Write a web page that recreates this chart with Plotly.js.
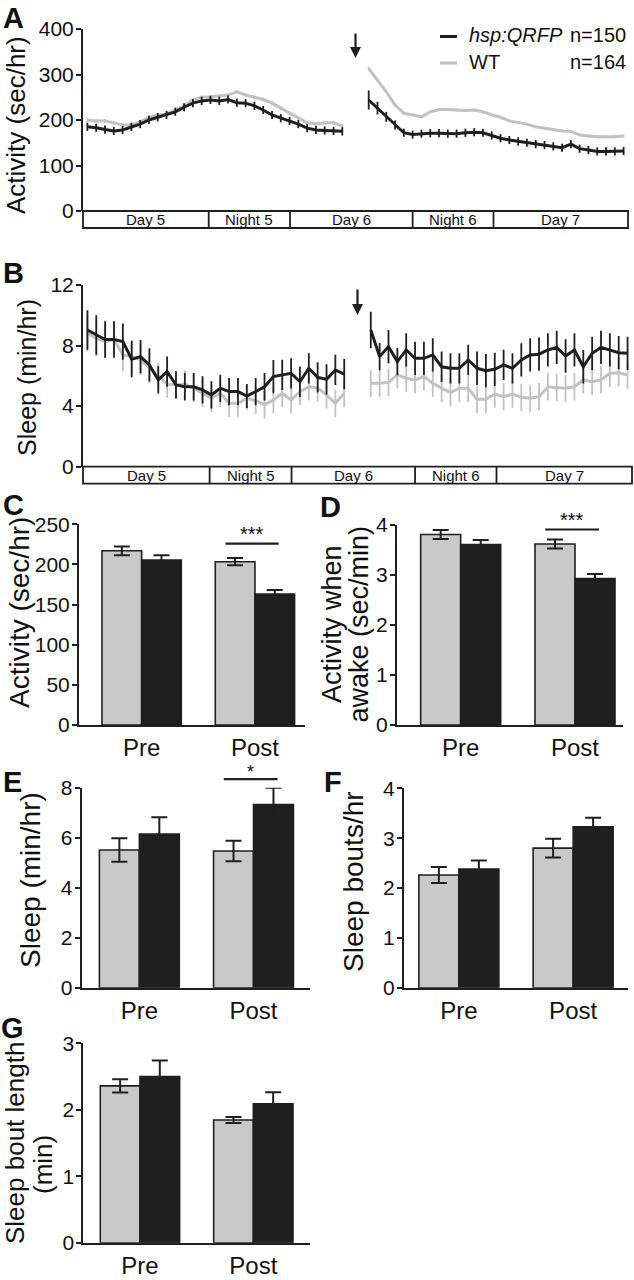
<!DOCTYPE html>
<html>
<head>
<meta charset="utf-8">
<script src="https://cdn.plot.ly/plotly-3.0.1.min.js"></script>
<style>html,body{margin:0;padding:0;background:#fff}#chart{width:634px;height:1280px}</style>
</head>
<body>
<div id="chart"></div>
<script>
// ---------------- DATA ----------------
const seriesNames = ['hsp:QRFP', 'WT'];
const seriesN = [150, 164];

const periodLabels = ['Day 5', 'Night 5', 'Day 6', 'Night 6', 'Day 7'];
const periodBounds = [0, 14.3, 23.55, 37.5, 46.7, 62];   // hours
const heatShockHour = 31;

const preHours  = [0.5,1.5,2.5,3.5,4.5,5.5,6.5,7.5,8.5,9.5,10.5,11.5,12.5,13.5,14.5,15.5,16.5,17.5,18.5,19.5,20.5,21.5,22.5,23.5,24.5,25.5,26.5,27.5,28.5,29.5];
const postHours = [32.5,33.5,34.5,35.5,36.5,37.5,38.5,39.5,40.5,41.5,42.5,43.5,44.5,45.5,46.5,47.5,48.5,49.5,50.5,51.5,52.5,53.5,54.5,55.5,56.5,57.5,58.5,59.5,60.5,61.5];

// Panel A: activity (sec/hr)
const actQrfpPre  = [185,183,179,176,178,185,191,200,206,211,218,228,237,242,244,242,245,238,237,231,222,211,204,198,191,182,178,177,176,175];
const actQrfpPreErr = [9,9,9,9,9,9,9,9,9,9,9,9,9,9,9,9,9,9,9,9,9,9,9,9,9,9,9,9,9,9];
const actWtPre    = [200,198,198,194,189,189,196,206,211,213,222,231,244,250,251,253,255,262,255,250,245,237,226,215,204,194,191,194,194,187];
const actWtPreErr = [4,4,4,4,4,4,4,4,4,4,4,4,4,4,4,4,4,4,4,4,4,4,4,4,4,4,4,4,4,4];
const actQrfpPost = [244,226,207,189,172,168,170,171,171,170,170,172,173,172,166,160,156,153,150,147,145,142,139,147,137,134,131,131,131,132];
const actQrfpPostErr = [21,14,11,10,9,9,9,9,9,9,9,9,9,9,9,9,9,9,9,9,9,9,9,9,9,9,9,9,9,9];
const actWtPost   = [313,288,262,233,215,211,207,218,223,223,222,221,222,218,211,206,198,194,191,185,182,178,176,175,167,165,163,163,163,165];
const actWtPostErr = [4,4,3,3,3,3,3,3,3,3,3,3,3,3,3,3,3,3,3,3,3,3,3,3,3,3,3,3,3,3];

// Panel B: sleep (min/hr)
const slpQrfpPre  = [9.03,8.7,8.4,8.4,8.26,7.1,7.27,6.72,5.73,6.28,5.4,5.28,5.28,5.07,4.74,5.18,4.96,4.96,4.67,4.96,5.28,5.95,6.06,6.17,5.61,6.5,5.9,5.77,6.39,6.12];
const slpQrfpPreErr = [1.3,1.3,1.2,1.2,1.2,1.2,1.1,1.1,0.9,1.0,0.9,0.9,0.9,0.9,0.9,0.9,0.9,0.9,0.8,0.9,0.9,1.1,1.0,1.0,1.0,1.0,1.0,1.0,1.0,1.0];
const slpWtPre    = [8.81,8.48,8.26,8.4,7.38,7.27,7.05,6.5,5.95,5.46,5.4,5.46,5.18,4.85,4.52,4.85,4.19,4.19,4.52,4.36,4.08,4.41,4.85,4.41,4.96,5.28,5.2,4.74,4.19,4.85];
const slpWtPreErr = [1.2,1.2,1.1,1.1,1.1,1.1,1.0,1.0,0.9,0.9,0.9,0.9,0.9,0.9,0.9,0.9,0.9,0.9,0.8,0.9,0.9,0.9,0.9,0.9,0.9,0.9,0.9,0.9,0.9,0.9];
const slpQrfpPost = [9.03,7.27,7.93,6.94,7.71,7.16,7.16,7.38,6.6,6.5,6.5,7.05,6.5,6.34,6.43,6.72,6.5,7.05,7.38,7.43,7.71,7.88,7.31,7.71,6.6,7.49,7.88,7.71,7.53,7.49];
const slpQrfpPostErr = [1.2,0.9,1.1,0.9,1.1,1.1,1.1,1.1,1.0,1.0,1.0,1.0,1.1,1.1,1.1,1.0,1.0,1.1,1.1,1.1,1.1,1.1,1.1,1.1,1.1,1.1,1.1,1.1,1.1,1.1];
const slpWtPost   = [5.51,5.51,5.57,6.06,5.84,5.73,5.95,5.51,5.18,4.89,5.18,5.18,4.45,4.45,4.8,4.62,4.8,4.58,4.52,4.62,5.28,5.24,5.18,5.28,5.73,5.62,5.73,6.17,6.21,6.06];
const slpWtPostErr = [0.9,0.9,0.9,0.9,0.9,0.9,0.9,0.9,0.9,0.9,0.9,0.9,0.9,0.9,0.9,0.9,0.9,0.9,0.9,0.9,0.9,0.9,0.9,0.9,0.9,0.9,0.9,0.9,0.9,0.9];

// Bar panels (WT, hsp:QRFP) for Pre / Post
const barCategories = ['Pre', 'Post'];
const activityWt = [217, 203.4],  activityWtErr = [5.5, 4.5];
const activityQrfp = [205.5, 163.2], activityQrfpErr = [5.9, 5.0];
const awakeWt = [3.81, 3.62], awakeWtErr = [0.09, 0.09];
const awakeQrfp = [3.61, 2.93], awakeQrfpErr = [0.09, 0.09];
const sleepWt = [5.51, 5.47], sleepWtErr = [0.47, 0.41];
const sleepQrfp = [6.15, 7.33], sleepQrfpErr = [0.67, 0.67];
const boutsWt = [2.26, 2.8], boutsWtErr = [0.16, 0.19];
const boutsQrfp = [2.38, 3.23], boutsQrfpErr = [0.17, 0.18];
const lengthWt = [2.36, 1.845], lengthWtErr = [0.1, 0.045];
const lengthQrfp = [2.5, 2.09], lengthQrfpErr = [0.24, 0.175];

// significance marks: [category, label, height in data units]
const sigC = ['Post', '***', 226];
const sigD = ['Post', '***', 3.91];
const sigE = ['Post', '*', 8.34];

// ---------------- STYLE / LAYOUT ----------------
const FONT = 'Liberation Sans, Arial, Helvetica, sans-serif';
const BLACK = '#1f1f1f', LGRAY = '#c2c2c2', BGRAY = '#c8c9cb';
const W = 634, H = 1280;
const px = p => p / W;
const py = p => 1 - p / H;

const box = {
  A: {x0: 83,   x1: 628, y0: 29,     y1: 211},
  B: {x0: 83,   x1: 632, y0: 285,    y1: 466.7},
  C: {x0: 79,   x1: 305, y0: 524.3,  y1: 725},
  D: {x0: 397,  x1: 623, y0: 525,    y1: 725},
  E: {x0: 81.7, x1: 310, y0: 787.7,  y1: 987.7},
  F: {x0: 404,  x1: 628, y0: 788.3,  y1: 987.7},
  G: {x0: 83.3, x1: 310, y0: 1043.3, y1: 1242.7}
};

function yAx(b, range, dtick, anchor) {
  return {domain: [py(b.y1), py(b.y0)], range: range, dtick: dtick, tick0: 0, anchor: anchor,
    showline: true, linewidth: 2, linecolor: BLACK, ticks: 'outside', ticklen: 5, tickwidth: 2,
    tickcolor: BLACK, showgrid: false, zeroline: false, fixedrange: true, ticklabelstandoff: -2,
    tickfont: {family: FONT, size: 21, color: '#111'}};
}
function xTime(b, anchor) {
  return {domain: [px(b.x0), px(b.x1)], range: [0, 62], anchor: anchor, showline: false,
    showticklabels: false, ticks: '', showgrid: false, zeroline: false, fixedrange: true};
}
function xBar(b, range, anchor) {
  return {domain: [px(b.x0), px(b.x1)], range: range, type: 'category', anchor: anchor,
    showline: true, linewidth: 2, linecolor: BLACK, ticks: '', showgrid: false, zeroline: false,
    fixedrange: true, tickfont: {family: FONT, size: 24, color: '#111'}};
}

const traces = [];
function ts(xa, ya, x, y, err, color) {
  traces.push({type: 'scatter', mode: 'lines', x: x, y: y, xaxis: xa, yaxis: ya,
    line: {color: color, width: 3}, showlegend: false, hoverinfo: 'skip',
    error_y: {type: 'data', array: err, color: color, thickness: 1.8, width: 0}});
}
// Panel A
ts('x', 'y', preHours, actWtPre, actWtPreErr, LGRAY);
ts('x', 'y', postHours, actWtPost, actWtPostErr, LGRAY);
ts('x', 'y', preHours, actQrfpPre, actQrfpPreErr, BLACK);
ts('x', 'y', postHours, actQrfpPost, actQrfpPostErr, BLACK);
// Panel B
ts('x2', 'y2', preHours, slpWtPre, slpWtPreErr, LGRAY);
ts('x2', 'y2', postHours, slpWtPost, slpWtPostErr, LGRAY);
ts('x2', 'y2', preHours, slpQrfpPre, slpQrfpPreErr, BLACK);
ts('x2', 'y2', postHours, slpQrfpPost, slpQrfpPostErr, BLACK);

const BW = 0.35;
function bars(xa, ya, wt, wtErr, q, qErr) {
  traces.push({type: 'bar', name: seriesNames[1], x: barCategories, y: wt, xaxis: xa, yaxis: ya,
    width: BW, offset: -BW, showlegend: false, hoverinfo: 'skip',
    marker: {color: BGRAY, line: {color: BLACK, width: 1.6}},
    error_y: {type: 'data', array: wtErr, color: BLACK, thickness: 2, width: 8}});
  traces.push({type: 'bar', name: seriesNames[0], x: barCategories, y: q, xaxis: xa, yaxis: ya,
    width: BW, offset: 0, showlegend: false, hoverinfo: 'skip',
    marker: {color: BLACK, line: {color: BLACK, width: 1.6}},
    error_y: {type: 'data', array: qErr, color: BLACK, thickness: 2, width: 8}});
}
bars('x3', 'y3', activityWt, activityWtErr, activityQrfp, activityQrfpErr);
bars('x4', 'y4', awakeWt, awakeWtErr, awakeQrfp, awakeQrfpErr);
bars('x5', 'y5', sleepWt, sleepWtErr, sleepQrfp, sleepQrfpErr);
bars('x6', 'y6', boutsWt, boutsWtErr, boutsQrfp, boutsQrfpErr);
bars('x7', 'y7', lengthWt, lengthWtErr, lengthQrfp, lengthQrfpErr);

const shapes = [], annotations = [];

// time boxes under A and B
function timeBox(b, xa) {
  const top = b.y1, bot = b.y1 + 17;
  shapes.push({type: 'rect', xref: 'paper', yref: 'paper', x0: px(b.x0), x1: px(b.x1),
    y0: py(bot), y1: py(top), line: {color: BLACK, width: 1.8}});
  for (let i = 1; i < periodBounds.length - 1; i++) {
    shapes.push({type: 'line', xref: xa, yref: 'paper', x0: periodBounds[i], x1: periodBounds[i],
      y0: py(bot), y1: py(top), line: {color: BLACK, width: 1.8}});
  }
  periodLabels.forEach((lab, i) => {
    annotations.push({xref: xa, yref: 'paper', x: (periodBounds[i] + periodBounds[i + 1]) / 2,
      y: py((top + bot) / 2), text: lab, showarrow: false, xanchor: 'center', yanchor: 'middle',
      font: {family: FONT, size: 15, color: '#111'}});
  });
}
timeBox(box.A, 'x');
timeBox(box.B, 'x2');

// heat-shock arrows
function arrow(xa, tipPx, len) {
  annotations.push({xref: xa, yref: 'paper', x: heatShockHour, y: py(tipPx), ax: 0, ay: -len,
    axref: 'pixel', ayref: 'pixel', text: '', showarrow: true, arrowhead: 2, arrowsize: 1,
    arrowwidth: 2.2, arrowcolor: BLACK, standoff: 0});
}
arrow('x', 58, 26);
arrow('x2', 315, 27);

// legend in A
[[seriesNames[0], seriesN[0], BLACK, 35.5, true], [seriesNames[1], seriesN[1], LGRAY, 62, false]].forEach(r => {
  shapes.push({type: 'line', xref: 'paper', yref: 'paper', x0: px(440), x1: px(457),
    y0: py(r[3] + 1), y1: py(r[3] + 1), line: {color: r[2], width: 3}});
  annotations.push({xref: 'paper', yref: 'paper', x: px(467), y: py(r[3]), xanchor: 'left',
    yanchor: 'middle', showarrow: false, text: r[4] ? '<i>' + r[0] + '</i>' : r[0],
    font: {family: FONT, size: 20, color: '#111'}});
  annotations.push({xref: 'paper', yref: 'paper', x: px(628), y: py(r[3]), xanchor: 'right',
    yanchor: 'middle', showarrow: false, text: 'n=' + r[1],
    font: {family: FONT, size: 20, color: '#111'}});
});

// significance
function sig(xa, ya, s, yMax, fs, ysh) {
  const c = barCategories.indexOf(s[0]);
  shapes.push({type: 'line', xref: xa, yref: ya + ' domain', x0: c - 0.26, x1: c + 0.21,
    y0: s[2] / yMax, y1: s[2] / yMax, line: {color: BLACK, width: 2.2}});
  annotations.push({xref: xa, yref: ya + ' domain', x: c - 0.025, y: s[2] / yMax, text: s[1],
    showarrow: false, xanchor: 'center', yanchor: 'bottom', yshift: ysh,
    font: {family: FONT, size: fs, color: '#111'}});
}
sig('x3', 'y3', sigC, 250, 20, -3);
sig('x4', 'y4', sigD, 4, 20, -3);
sig('x5', 'y5', sigE, 8, 18, -5);

// y titles (rotated text)
function vtitle(text, cx, cy, size) {
  annotations.push({xref: 'paper', yref: 'paper', x: px(cx), y: py(cy), text: text, textangle: -90,
    showarrow: false, xanchor: 'center', yanchor: 'middle', font: {family: FONT, size: size, color: '#111'}});
}
vtitle('Activity (sec/hr)', 16, 125, 26);
vtitle('Sleep (min/hr)', 27, 378, 25);
vtitle('Activity (sec/hr)', 19, 613, 28);
vtitle('Activity when', 332, 624, 27);
vtitle('awake (sec/min)', 358.5, 624, 27);
vtitle('Sleep (min/hr)', 30, 880, 28);
vtitle('Sleep bouts/hr', 353, 882, 28);
vtitle('Sleep bout length', 15, 1143, 26);
vtitle('(min)', 43, 1165, 26);

// panel letters
[['A', 13, 18], ['B', 13, 273], ['C', 13, 505], ['D', 330, 507], ['E', 12, 782], ['F', 333, 782], ['G', 12, 1028]].forEach(l => {
  annotations.push({xref: 'paper', yref: 'paper', x: px(l[1]), y: py(l[2]), text: '<b>' + l[0] + '</b>',
    showarrow: false, xanchor: 'center', yanchor: 'middle', font: {family: FONT, size: 29, color: '#111'}});
});

const layout = {
  width: W, height: H, margin: {l: 0, r: 0, t: 0, b: 0}, paper_bgcolor: '#fff', plot_bgcolor: 'rgba(0,0,0,0)',
  showlegend: false, barmode: 'overlay', font: {family: FONT, color: '#111'},
  xaxis: xTime(box.A, 'y'), yaxis: yAx(box.A, [0, 400], 100, 'x'),
  xaxis2: xTime(box.B, 'y2'), yaxis2: yAx(box.B, [0, 12], 4, 'x2'),
  xaxis3: xBar(box.C, [-0.553, 1.442], 'y3'), yaxis3: yAx(box.C, [0, 250], 50, 'x3'),
  xaxis4: xBar(box.D, [-0.557, 1.42], 'y4'), yaxis4: yAx(box.D, [0, 4], 1, 'x4'),
  xaxis5: xBar(box.E, [-0.505, 1.495], 'y5'), yaxis5: yAx(box.E, [0, 8], 2, 'x5'),
  xaxis6: xBar(box.F, [-0.48, 1.48], 'y6'), yaxis6: yAx(box.F, [0, 4], 1, 'x6'),
  xaxis7: xBar(box.G, [-0.5, 1.5], 'y7'), yaxis7: yAx(box.G, [0, 3], 1, 'x7'),
  shapes: shapes, annotations: annotations
};

Plotly.newPlot('chart', traces, layout, {displayModeBar: false, staticPlot: true});
</script>
</body>
</html>
